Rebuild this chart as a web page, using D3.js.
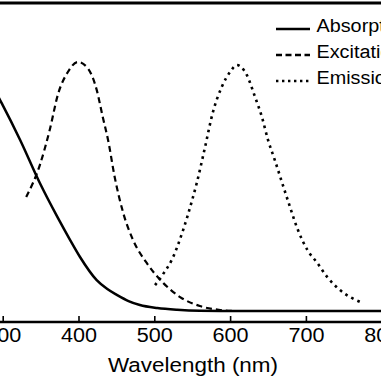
<!DOCTYPE html>
<html>
<head>
<meta charset="utf-8">
<script src="https://cdn.jsdelivr.net/npm/d3@7"></script>
<style>
html,body{margin:0;padding:0;background:#fff;}
svg{display:block;}
text{font-family:"Liberation Sans",Arial,Helvetica,sans-serif;fill:#000;}
</style>
</head>
<body>
<svg id="chart" width="381" height="381"></svg>
<script>
// ---- data (normalized intensity vs wavelength, nm) ----
const absorptionNm  = [290,296,300,323,349,373,389,402,424,438,451,466,481,504,530,560,600,700,800];
const absorptionVal = [0.89,0.85,0.827,0.687,0.514,0.373,0.285,0.217,0.124,0.088,0.064,0.040,0.024,0.012,0.005,0.001,0,0,0];

const excitationNm  = [331,349,362,373,386,399,412,424,432,439,448,459,472,490,512,534,560,587,603];
const excitationVal = [0.458,0.586,0.727,0.871,0.960,1.0,0.976,0.888,0.779,0.687,0.534,0.394,0.285,0.193,0.112,0.056,0.020,0.004,0];

const emissionNm  = [501,512,523,538,550,556,567,577,589,600,609,622,633,642,650,659,670,679,688,702,715,728,745,775];
const emissionVal = [0.104,0.150,0.205,0.325,0.446,0.514,0.659,0.795,0.900,0.960,0.988,0.948,0.859,0.779,0.687,0.606,0.502,0.418,0.337,0.245,0.193,0.137,0.084,0.032];

const xTicks = [300,400,500,600,700,800];
const seriesNames = ["Absorption","Excitation","Emission"];
const xLabel = "Wavelength (nm)";

// ---- layout ----
const svg = d3.select("#chart");
const plotTop = 3, plotBottom = 322;
const x = d3.scaleLinear().domain([300, 800]).range([2.7, 381.7]);
const y = d3.scaleLinear().domain([0, 1]).range([311, 62]);

const styles = [
  {w:2.5, dash:null},
  {w:2.2, dash:"6,4"},
  {w:2.6, dash:"2.6,4.2"}
];

const series = [
  absorptionNm.map((d,i)=>[d, absorptionVal[i]]),
  excitationNm.map((d,i)=>[d, excitationVal[i]]),
  emissionNm.map((d,i)=>[d, emissionVal[i]])
];

const line = d3.line().x(d=>x(d[0])).y(d=>y(d[1])).curve(d3.curveMonotoneX);

series.forEach((s,i)=>{
  svg.append("path").attr("d", line(s))
    .attr("fill","none").attr("stroke","#000")
    .attr("stroke-width", styles[i].w)
    .attr("stroke-dasharray", styles[i].dash);
});

// top frame
svg.append("line").attr("x1",0).attr("x2",381).attr("y1",plotTop).attr("y2",plotTop)
  .attr("stroke","#000").attr("stroke-width",3);

// bottom axis
const axis = d3.axisBottom(x).tickValues(xTicks).tickSizeInner(-6).tickSizeOuter(0).tickPadding(12);
const gx = svg.append("g").attr("transform",`translate(0,${plotBottom})`).call(axis);
gx.select(".domain").remove();
gx.append("line").attr("x1",0).attr("x2",381).attr("y1",0).attr("y2",0)
  .attr("stroke","#000").attr("stroke-width",2.6);
gx.selectAll(".tick line").attr("stroke","#000").attr("stroke-width",1.6);
gx.selectAll(".tick text")
  .attr("font-size",20).attr("dy",null).attr("y",19.5)
  .attr("fill","#000")
  .style("font-family",'"Liberation Sans",Arial,sans-serif')
  .attr("textLength",36).attr("lengthAdjust","spacingAndGlyphs");

svg.append("text").attr("x",193).attr("y",371.7).attr("text-anchor","middle")
  .attr("font-size",19.3).attr("textLength",170).attr("lengthAdjust","spacingAndGlyphs")
  .text(xLabel);

// legend
const legY = [29, 55, 81];
const legBase = [31.7, 58, 83.5];
seriesNames.forEach((n,i)=>{
  svg.append("line").attr("x1",276).attr("x2",310).attr("y1",legY[i]).attr("y2",legY[i])
    .attr("stroke","#000").attr("stroke-width",2.6)
    .attr("stroke-dasharray", i===0?null:(i===1?"6,3.5":"2.4,3.6"));
  const t = svg.append("text").attr("x",316.5).attr("y",legBase[i]).attr("font-size",18).text(n);
  const L = t.node().getComputedTextLength();
  t.attr("textLength", L*1.1).attr("lengthAdjust","spacingAndGlyphs");
});
</script>
</body>
</html>
